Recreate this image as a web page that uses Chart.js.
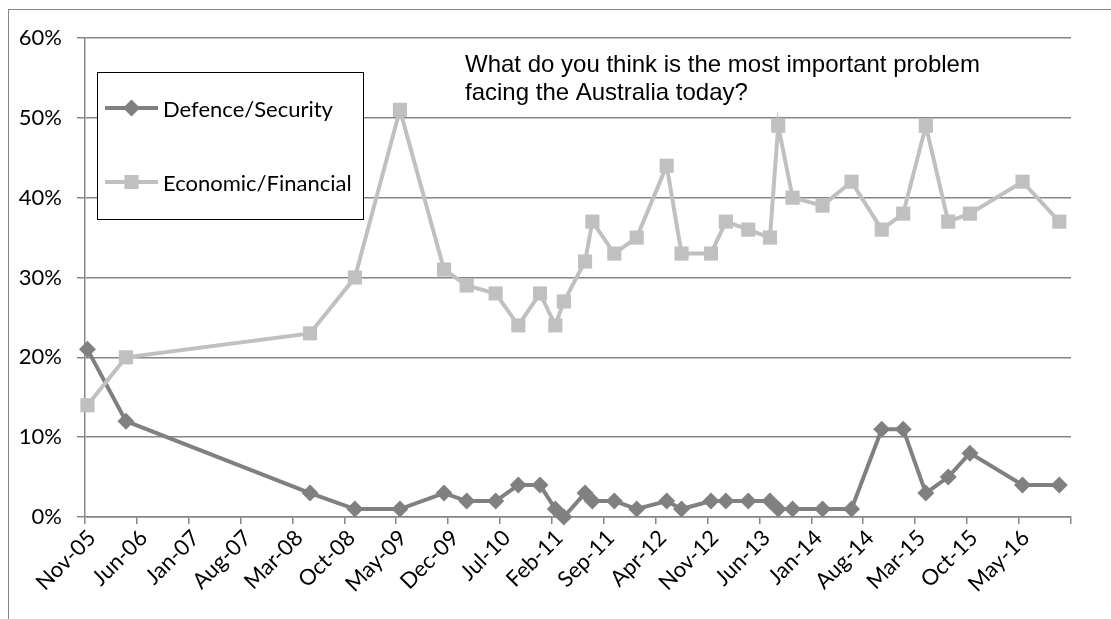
<!DOCTYPE html>
<html>
<head>
<meta charset="utf-8">
<title>Most important problem facing Australia</title>
<script src="https://cdn.jsdelivr.net/npm/chart.js@4.4.1/dist/chart.umd.min.js"></script>
<style>
  html, body { margin: 0; padding: 0; background: #fff; }
  #wrap { position: relative; width: 1111px; height: 619px; }
</style>
</head>
<body>
<div id="wrap"><canvas id="issuesChart"></canvas></div>
<script>
(function () {
  "use strict";

  // survey dates (approximate fieldwork dates)
  const surveyDates = [
    "2005-11-11", "2006-04-18", "2008-05-13", "2008-11-13", "2009-05-17",
    "2009-11-14", "2010-02-15", "2010-06-14", "2010-09-15", "2010-12-13",
    "2011-02-14", "2011-03-21", "2011-06-16", "2011-07-16", "2011-10-14",
    "2012-01-14", "2012-05-16", "2012-07-16", "2012-11-14", "2013-01-14",
    "2013-04-16", "2013-07-14", "2013-08-17", "2013-10-15", "2014-02-15",
    "2014-06-14", "2014-10-16", "2015-01-12", "2015-04-15", "2015-07-16",
    "2015-10-13", "2016-05-16", "2016-10-14"
  ];

  const defenceSecurity = [
    21, 12, 3, 1, 1, 3, 2, 2, 4, 4, 1, 0, 3, 2, 2, 1, 2,
    1, 2, 2, 2, 2, 1, 1, 1, 1, 11, 11, 3, 5, 8, 4, 4
  ];

  const economicFinancial = [
    14, 20, 23, 30, 51, 31, 29, 28, 24, 28, 24, 27, 32, 37, 33, 35, 44,
    33, 33, 37, 36, 35, 49, 40, 39, 42, 36, 38, 49, 37, 38, 42, 37
  ];

  // date axis: a major tick every 7 months
  const tickDates = [
    "2005-11-01", "2006-06-01", "2007-01-01", "2007-08-01", "2008-03-01",
    "2008-10-01", "2009-05-01", "2009-12-01", "2010-07-01", "2011-02-01",
    "2011-09-01", "2012-04-01", "2012-11-01", "2013-06-01", "2014-01-01",
    "2014-08-01", "2015-03-01", "2015-10-01", "2016-05-01", "2016-12-01"
  ];
  const tickLabels = [
    "Nov-05", "Jun-06", "Jan-07", "Aug-07", "Mar-08", "Oct-08", "May-09",
    "Dec-09", "Jul-10", "Feb-11", "Sep-11", "Apr-12", "Nov-12", "Jun-13",
    "Jan-14", "Aug-14", "Mar-15", "Oct-15", "May-16", ""
  ];

  const titleLines = [
    "What do you think is the most important problem",
    "facing the Australia today?"
  ];

  const DARK = "#808080";
  const LIGHT = "#c0c0c0";
  const GRID = "#868686";
  const LABEL_FONT = "Lato";

  const toDay = s => Date.parse(s) / 86400000;

  function points(values) {
    return values.map((v, i) => ({ x: toDay(surveyDates[i]), y: v }));
  }

  function drawMarker(ctx, style, x, y, r, color) {
    ctx.fillStyle = color;
    ctx.beginPath();
    if (style === "rectRot") {
      ctx.moveTo(x, y - r);
      ctx.lineTo(x + r, y);
      ctx.lineTo(x, y + r);
      ctx.lineTo(x - r, y);
    } else {
      const h = r * Math.SQRT1_2;
      ctx.rect(x - h, y - h, 2 * h, 2 * h);
    }
    ctx.closePath();
    ctx.fill();
  }

  // outer frame, legend box and question text
  const decorations = {
    id: "decorations",
    beforeDraw(chart) {
      const ctx = chart.ctx;
      ctx.save();
      ctx.strokeStyle = GRID;
      ctx.lineWidth = 1;
      ctx.strokeRect(8.5, 9.5, 1200, 700);
      ctx.restore();
    },
    afterDraw(chart) {
      const ctx = chart.ctx;
      ctx.save();

      ctx.fillStyle = "#fff";
      ctx.fillRect(97, 72, 266, 147);
      ctx.strokeStyle = "#000";
      ctx.lineWidth = 1;
      ctx.strokeRect(97.5, 72.5, 266, 147);

      const rows = [
        { ds: chart.data.datasets[0], y: 108 },
        { ds: chart.data.datasets[1], y: 182 }
      ];
      rows.forEach(row => {
        ctx.strokeStyle = row.ds.borderColor;
        ctx.lineWidth = 4;
        ctx.beginPath();
        ctx.moveTo(105, row.y);
        ctx.lineTo(158, row.y);
        ctx.stroke();
        drawMarker(ctx, row.ds.pointStyle, 131.5, row.y, row.ds.pointRadius, row.ds.borderColor);
        ctx.fillStyle = "#000";
        ctx.font = "22px " + LABEL_FONT;
        ctx.textBaseline = "alphabetic";
        ctx.fillText(row.ds.label, 163, row.y + 9);
      });

      ctx.font = '24px "Liberation Sans"';
      ctx.fillStyle = "#000";
      titleLines.forEach((line, i) => ctx.fillText(line, 465, 72 + i * 28));

      ctx.restore();
    }
  };

  new Chart(document.getElementById("issuesChart"), {
    type: "line",
    data: {
      datasets: [
        {
          label: "Defence/Security",
          data: points(defenceSecurity),
          borderColor: DARK,
          backgroundColor: DARK,
          borderWidth: 4,
          pointStyle: "rectRot",
          pointRadius: 8.5,
          pointHoverRadius: 8.5,
          pointBorderWidth: 0,
          tension: 0,
          clip: false,
          order: 1
        },
        {
          label: "Economic/Financial",
          data: points(economicFinancial),
          borderColor: LIGHT,
          backgroundColor: LIGHT,
          borderWidth: 4,
          pointStyle: "rect",
          pointRadius: 10,
          pointHoverRadius: 10,
          pointBorderWidth: 0,
          tension: 0,
          clip: false,
          order: 0
        }
      ]
    },
    options: {
      responsive: true,
      maintainAspectRatio: false,
      animation: false,
      layout: { padding: { top: 38, right: 40, left: 0, bottom: 0 } },
      plugins: {
        legend: { display: false },
        tooltip: { enabled: false }
      },
      scales: {
        x: {
          type: "linear",
          min: toDay(tickDates[0]),
          max: toDay(tickDates[tickDates.length - 1]),
          afterBuildTicks: scale => {
            scale.ticks = tickDates.map(d => ({ value: toDay(d) }));
          },
          afterFit: scale => { scale.height = 102; },
          grid: {
            drawOnChartArea: false,
            drawTicks: true,
            tickLength: 7,
            tickColor: GRID,
            lineWidth: 1.5
          },
          border: { display: true, color: GRID, width: 1.5 },
          ticks: {
            autoSkip: false,
            minRotation: 45,
            maxRotation: 45,
            padding: 1,
            labelOffset: 7,
            color: "#000",
            font: { family: LABEL_FONT, size: 22 },
            callback: (value, index) => tickLabels[index]
          }
        },
        y: {
          min: 0,
          max: 60,
          afterFit: scale => { scale.width = 85; },
          grid: {
            color: GRID,
            lineWidth: 1.5,
            tickLength: 8,
            tickColor: GRID
          },
          border: { display: true, color: GRID, width: 1.5 },
          ticks: {
            stepSize: 10,
            padding: 15,
            color: "#000",
            font: { family: LABEL_FONT, size: 22 },
            callback: value => value + "%"
          }
        }
      }
    },
    plugins: [decorations]
  });
})();
</script>
</body>
</html>
